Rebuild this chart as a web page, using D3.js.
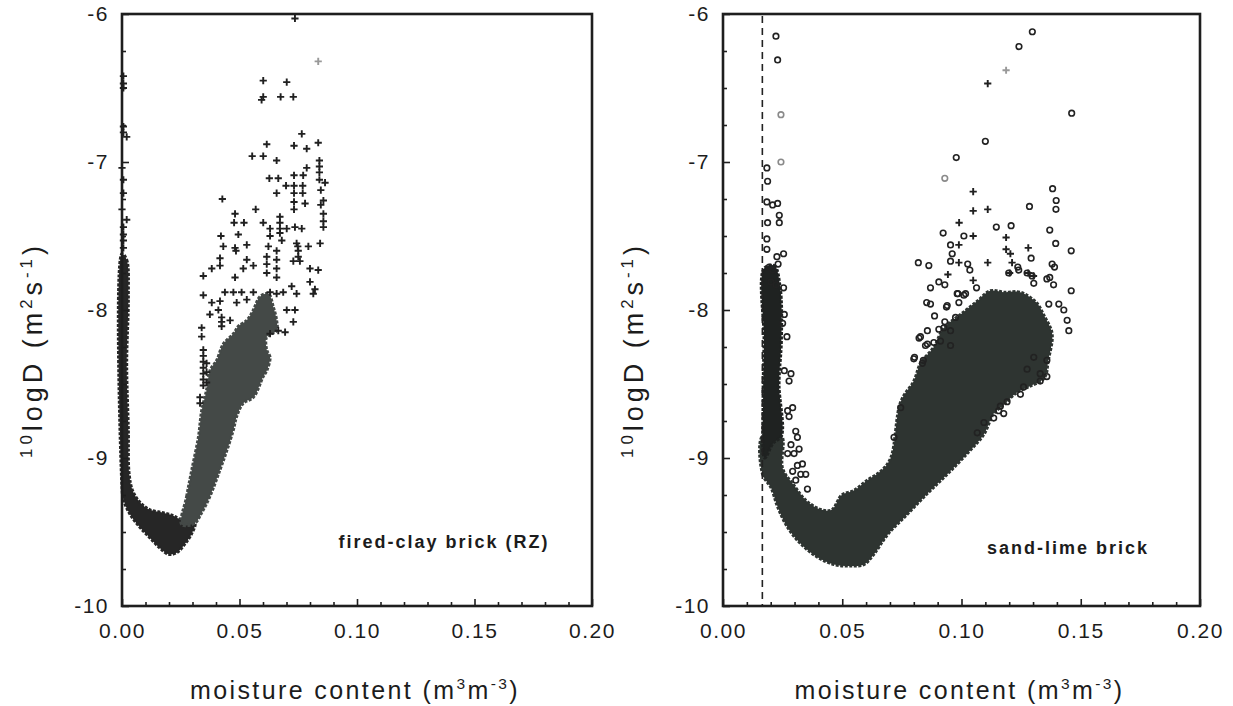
<!DOCTYPE html>
<html>
<head>
<meta charset="utf-8">
<script src="https://cdn.jsdelivr.net/npm/d3@7"></script>
<style>
  body { margin: 0; background: #fff; }
  svg text { font-family: "Liberation Sans", Arial, sans-serif; fill: #1c1c1c; }
</style>
</head>
<body>
<div id="wrapper"></div>
<script>
// axis ticks
const xTicks = [0, 0.05, 0.10, 0.15, 0.20];
const xMinor = [0.01,0.02,0.03,0.04,0.06,0.07,0.08,0.09,0.11,0.12,0.13,0.14,0.16,0.17,0.18,0.19];
const yTicks = [-6, -7, -8, -9, -10];
const yMinor = [-6.25,-6.5,-6.75,-7.25,-7.5,-7.75,-8.25,-8.5,-8.75,-9.25,-9.5,-9.75];

// fired-clay brick: dense cloud outlines [moisture, logD]
const clayCore = [
  [0.0000,-7.62],[0.0020,-7.66],[0.0027,-7.91],[0.0020,-8.36],[0.0027,-8.81],[0.0030,-9.10],
  [0.0045,-9.22],[0.0077,-9.30],[0.0119,-9.35],[0.0176,-9.37],[0.0218,-9.39],[0.0254,-9.42],
  [0.0310,-9.44],[0.0297,-9.51],[0.0268,-9.58],[0.0233,-9.64],[0.0197,-9.65],[0.0162,-9.61],
  [0.0119,-9.54],[0.0077,-9.47],[0.0034,-9.38],[0.0006,-9.28],[0.0000,-9.2]
];
const clayBranch = [
  [0.0254,-9.45],[0.0275,-9.26],[0.0297,-9.08],[0.0325,-8.86],[0.0339,-8.68],[0.0360,-8.54],
  [0.0374,-8.41],[0.0403,-8.34],[0.0431,-8.23],[0.0474,-8.16],[0.0495,-8.11],[0.0531,-8.07],
  [0.0559,-8.00],[0.0587,-7.91],[0.0623,-7.89],[0.0644,-7.98],[0.0658,-8.07],[0.0658,-8.14],
  [0.0616,-8.18],[0.0616,-8.27],[0.0630,-8.32],[0.0616,-8.41],[0.0601,-8.45],[0.0559,-8.59],
  [0.0516,-8.63],[0.0488,-8.72],[0.0474,-8.81],[0.0446,-8.95],[0.0417,-9.08],[0.0374,-9.26],
  [0.0339,-9.37],[0.0310,-9.44]
];
// fired-clay brick: separate points
const clayPlus = [
  [0.0006,-6.42],[0.0006,-6.47],[0.0006,-6.50],[0.0006,-6.76],[0.0006,-6.80],[0.0020,-6.83],
  [0.0000,-7.04],[0.0006,-7.12],[0.0006,-7.21],[0.0000,-7.32],[0.0020,-7.39],[0.0006,-7.44],
  [0.0006,-7.49],[0.0006,-7.53],[0.0006,-7.58],
  [0.0736,-6.03],[0.0601,-6.45],[0.0701,-6.46],[0.0601,-6.56],[0.0594,-6.58],[0.0675,-6.56],
  [0.0729,-6.56],[0.0765,-6.81],[0.0616,-6.88],[0.0732,-6.89],[0.0835,-6.87],[0.0786,-6.91],
  [0.0554,-6.96],[0.0601,-6.96],[0.0658,-6.99],[0.0840,-6.99],[0.0840,-7.03],[0.0840,-7.07],
  [0.0840,-7.12],[0.0627,-7.11],[0.0665,-7.11],[0.0732,-7.09],[0.0771,-7.09],[0.0786,-7.04],
  [0.0864,-7.14],[0.0698,-7.16],[0.0732,-7.16],[0.0769,-7.16],[0.0658,-7.21],[0.0732,-7.21],
  [0.0769,-7.21],[0.0846,-7.19],[0.0427,-7.25],[0.0857,-7.26],[0.0732,-7.27],[0.0779,-7.28],
  [0.0846,-7.29],[0.0569,-7.32],[0.0732,-7.32],[0.0481,-7.35],[0.0857,-7.35],[0.0672,-7.37],
  [0.0672,-7.41],[0.0672,-7.45],[0.0672,-7.48],[0.0477,-7.41],[0.0519,-7.41],[0.0601,-7.41],
  [0.0630,-7.45],[0.0736,-7.44],[0.0765,-7.45],[0.0857,-7.44],[0.0857,-7.40],[0.0701,-7.45],
  [0.0421,-7.50],[0.0495,-7.49],[0.0630,-7.50],[0.0680,-7.53],[0.0743,-7.55],[0.0843,-7.55],
  [0.0431,-7.57],[0.0481,-7.58],[0.0531,-7.56],[0.0623,-7.57],[0.0748,-7.57],[0.0793,-7.57],
  [0.0485,-7.60],[0.0417,-7.65],[0.0531,-7.66],[0.0346,-7.77],[0.0382,-7.72],[0.0417,-7.70],
  [0.0481,-7.78],[0.0516,-7.72],[0.0559,-7.70],[0.0616,-7.64],[0.0616,-7.69],[0.0616,-7.75],
  [0.0658,-7.60],[0.0658,-7.66],[0.0658,-7.72],[0.0658,-7.78],[0.0729,-7.67],[0.0757,-7.67],
  [0.0800,-7.72],[0.0835,-7.73],[0.0750,-7.60],[0.0750,-7.64],[0.0438,-7.88],[0.0474,-7.88],
  [0.0509,-7.88],[0.0559,-7.88],[0.0630,-7.88],[0.0658,-7.89],[0.0686,-7.88],[0.0722,-7.84],
  [0.0743,-7.89],[0.0800,-7.81],[0.0821,-7.86],[0.0814,-7.89],[0.0346,-7.90],[0.0417,-7.94],
  [0.0382,-7.95],[0.0410,-8.00],[0.0488,-7.95],[0.0531,-7.93],[0.0701,-8.00],[0.0736,-8.00],
  [0.0374,-8.03],[0.0424,-8.05],[0.0424,-8.08],[0.0424,-8.11],[0.0460,-8.07],[0.0729,-8.08],
  [0.0339,-8.12],[0.0339,-8.18],[0.0665,-8.14],[0.0694,-8.15],[0.0630,-8.16],[0.0346,-8.27],
  [0.0346,-8.31],[0.0346,-8.35],[0.0346,-8.39],[0.0346,-8.43],[0.0346,-8.47],[0.0346,-8.51],
  [0.0360,-8.36],[0.0360,-8.42],[0.0360,-8.49],[0.0332,-8.59],[0.0332,-8.63]
];
const clayPlusFaint = [[0.0835,-6.32]];

// sand-lime brick: dense cloud outlines
const limeColumn = [
  [0.0172,-7.72],[0.0215,-7.70],[0.0240,-7.85],[0.0245,-8.20],[0.0235,-8.50],[0.0245,-8.85],
  [0.0210,-8.90],[0.0175,-9.00],[0.0168,-8.60],[0.0172,-8.20]
];
const limeBowl = [
  [0.0166,-8.85],[0.0166,-9.11],[0.0201,-9.20],[0.0229,-9.33],[0.0271,-9.47],[0.0326,-9.58],
  [0.0396,-9.67],[0.0466,-9.72],[0.0536,-9.73],[0.0591,-9.72],[0.0633,-9.65],[0.0689,-9.52],
  [0.0773,-9.38],[0.0857,-9.24],[0.0940,-9.11],[0.1024,-8.97],[0.1094,-8.84],[0.1135,-8.70],
  [0.1177,-8.64],[0.1230,-8.56],[0.1280,-8.52],[0.1347,-8.46],[0.1364,-8.34],[0.1380,-8.16],
  [0.1347,-8.04],[0.1314,-7.95],[0.1247,-7.88],[0.1180,-7.88],[0.1120,-7.87],[0.1066,-7.94],
  [0.0996,-8.03],[0.0926,-8.12],[0.0884,-8.25],[0.0828,-8.36],[0.0800,-8.48],[0.0745,-8.62],
  [0.0703,-9.00],[0.0661,-9.09],[0.0605,-9.15],[0.0548,-9.22],[0.0498,-9.25],[0.0456,-9.35],
  [0.0414,-9.35],[0.0350,-9.29],[0.0300,-9.19],[0.0250,-9.07],[0.0245,-8.85]
];
// sand-lime brick: separate points
const limeCircles = [
  [0.0222,-6.15],[0.0229,-6.31],[0.0184,-7.04],[0.0187,-7.13],[0.0184,-7.27],[0.0208,-7.29],
  [0.0229,-7.28],[0.0236,-7.36],[0.0236,-7.41],[0.0187,-7.41],[0.0184,-7.52],[0.0184,-7.59],
  [0.0254,-7.62],[0.0226,-7.64],[0.0194,-7.71],[0.0208,-7.73],[0.0231,-7.69],[0.0201,-7.81],
  [0.0254,-7.85],[0.0222,-7.83],[0.0257,-8.03],[0.0250,-8.09],[0.0268,-8.18],[0.0257,-8.41],
  [0.0285,-8.43],[0.0277,-8.48],[0.0292,-8.66],[0.0271,-8.68],[0.0277,-8.72],[0.0305,-8.82],
  [0.0312,-8.86],[0.0285,-8.91],[0.0271,-8.97],[0.0298,-8.97],[0.0319,-8.94],[0.0333,-9.04],
  [0.0312,-9.05],[0.0292,-9.09],[0.0326,-9.11],[0.0305,-9.15],[0.0347,-9.11],[0.0354,-9.21],
  [0.1297,-6.12],[0.1241,-6.22],[0.1462,-6.67],[0.1100,-6.86],[0.0978,-6.97],[0.1382,-7.18],
  [0.1397,-7.26],[0.1396,-7.32],[0.1285,-7.30],[0.1146,-7.44],[0.1208,-7.43],[0.0923,-7.48],
  [0.1010,-7.50],[0.1370,-7.46],[0.1395,-7.55],[0.0954,-7.56],[0.1460,-7.60],[0.0961,-7.62],
  [0.0954,-7.67],[0.0819,-7.68],[0.0863,-7.70],[0.1026,-7.69],[0.1035,-7.73],[0.1292,-7.65],
  [0.1236,-7.71],[0.1390,-7.71],[0.0870,-7.85],[0.0905,-7.81],[0.0930,-7.83],[0.1063,-7.85],
  [0.0982,-7.89],[0.1010,-7.90],[0.1358,-7.79],[0.1386,-7.83],[0.1460,-7.87],[0.1370,-7.78],
  [0.1296,-7.77],[0.1303,-7.82],[0.1275,-7.75],[0.1240,-7.73],[0.1198,-7.75],[0.0854,-7.95],
  [0.0937,-7.98],[0.0887,-8.04],[0.0930,-8.08],[0.0975,-8.05],[0.0989,-7.95],[0.0985,-7.89],
  [0.1017,-7.89],[0.0857,-8.14],[0.0905,-8.13],[0.0954,-8.14],[0.0822,-8.19],[0.0884,-8.22],
  [0.0849,-8.24],[0.0954,-8.24],[0.0803,-8.32],[0.0840,-8.34],[0.1366,-7.96],[0.1408,-7.96],
  [0.1429,-8.00],[0.1443,-8.07],[0.1450,-8.14],[0.1303,-8.32],[0.1358,-8.34],[0.1330,-8.43],
  [0.1358,-8.45],[0.1330,-8.48],[0.1275,-8.40],[0.1260,-8.52],[0.1247,-8.57],[0.1191,-8.62],
  [0.1163,-8.65],[0.1156,-8.68],[0.1135,-8.73],[0.1094,-8.76],[0.1066,-8.83],[0.1177,-8.70],
  [0.0870,-7.96],[0.0926,-8.12],[0.0940,-7.97],[0.0828,-8.18],[0.0857,-8.23],[0.0912,-8.21],
  [0.0745,-8.66],[0.0717,-8.86],[0.0800,-8.33],[0.0836,-8.36],[0.1380,-7.69]
];
const limeCirclesFaint = [[0.0243,-6.68],[0.0243,-7.00],[0.0930,-7.11]];
const limePlus = [
  [0.1110,-6.47],[0.1049,-7.20],[0.1049,-7.33],[0.1110,-7.32],[0.0990,-7.41],[0.1049,-7.50],
  [0.0989,-7.56],[0.0989,-7.68],[0.1110,-7.68],[0.0943,-7.76],[0.1049,-7.80],[0.1187,-7.51],
  [0.1280,-7.58],[0.1187,-7.59],[0.1205,-7.62],[0.1212,-7.68],[0.1202,-7.75],[0.1280,-7.75],
  [0.1302,-7.77]
];
const limePlusFaint = [[0.1187,-6.38]];
const limeCutoff = 0.0165;

const svg = d3.select("#wrapper").append("svg")
    .attr("width", 1233)
    .attr("height", 706);

function supText(sel, parts, size) {
    // parts: [text, isSuperscript]
    parts.forEach(([t, sup]) => {
        sel.append("tspan")
            .attr("font-size", sup ? size * 0.62 : size)
            .attr("baseline-shift", sup ? "60%" : null)
            .text(t);
    });
}

function drawPanel(p) {
    const x = d3.scaleLinear().domain([0, 0.2]).range([p.left, p.right]);
    const y = d3.scaleLinear().domain([-10, -6]).range([p.bottom, p.top]);
    const g = svg.append("g");

    // dense clouds
    const shape = d3.line().x(d => x(d[0])).y(d => y(d[1])).curve(d3.curveCatmullRomClosed.alpha(0.5));
    p.clouds.forEach(c => {
        g.append("path").attr("d", shape(c.data))
            .attr("fill", c.color).attr("stroke", c.color)
            .attr("stroke-width", 3).attr("stroke-dasharray", "3 1.5");
    });

    // cutoff line
    if (p.cutoff != null) {
        g.append("line")
            .attr("x1", x(p.cutoff)).attr("x2", x(p.cutoff))
            .attr("y1", y(-6) + 2).attr("y2", y(-10))
            .attr("stroke", "#222").attr("stroke-width", 1.6)
            .attr("stroke-dasharray", "7 5");
    }

    // markers
    const cross = s => `M${-s},0H${s}M0,${-s}V${s}`;
    p.plus.forEach(set => {
        g.append("g").selectAll("path").data(set.data).join("path")
            .attr("transform", d => `translate(${x(d[0])},${y(d[1])})`)
            .attr("d", cross(3.6))
            .attr("stroke", set.color).attr("stroke-width", 1.9).attr("fill", "none");
    });
    p.circles.forEach(set => {
        g.append("g").selectAll("circle").data(set.data).join("circle")
            .attr("cx", d => x(d[0])).attr("cy", d => y(d[1]))
            .attr("r", 2.8)
            .attr("stroke", set.color).attr("stroke-width", 1.6).attr("fill", "none");
    });

    // frame
    g.append("rect")
        .attr("x", p.left).attr("y", p.top)
        .attr("width", p.right - p.left).attr("height", p.bottom - p.top)
        .attr("fill", "none").attr("stroke", "#1e1e1e").attr("stroke-width", 2.6);

    // axes
    g.append("g").attr("transform", `translate(0,${p.bottom})`)
        .call(d3.axisBottom(x).tickValues(xTicks).tickSize(-7).tickPadding(17)
            .tickFormat(d3.format(".2f")));
    g.append("g").attr("transform", `translate(0,${p.bottom})`)
        .call(d3.axisBottom(x).tickValues(xMinor).tickSize(-4).tickFormat(""));
    g.append("g").attr("transform", `translate(${p.left},0)`)
        .call(d3.axisLeft(y).tickValues(yTicks).tickSize(-7).tickPadding(13)
            .tickFormat(d => String(d)));
    g.append("g").attr("transform", `translate(${p.left},0)`)
        .call(d3.axisLeft(y).tickValues(yMinor).tickSize(-4).tickFormat(""));
    g.selectAll(".domain").remove();
    g.selectAll(".tick line").attr("stroke", "#1e1e1e").attr("stroke-width", 1.6);
    g.selectAll(".tick text")
        .attr("font-size", 21).attr("letter-spacing", 1.5)
        .attr("font-family", "'Liberation Sans', Arial, sans-serif").attr("fill", "#1c1c1c");

    // axis titles
    const xt = g.append("text")
        .attr("x", (p.left + p.right) / 2 - 2).attr("y", 699)
        .attr("text-anchor", "middle").attr("letter-spacing", 2.4).attr("font-size", 25);
    supText(xt, [["moisture content (m", 0], ["3", 1], ["m", 0], ["-3", 1], [")", 0]], 25);

    const yt = g.append("text")
        .attr("transform", `translate(${p.left - 80},${p.titleY}) rotate(-90)`)
        .attr("text-anchor", "middle").attr("letter-spacing", 4).attr("font-size", 27);
    supText(yt, [["10", 1], ["logD (m", 0], ["2", 1], ["s", 0], ["-1", 1], [")", 0]], 27);

    // panel label
    g.append("text")
        .attr("x", p.labelX).attr("y", p.labelY)
        .attr("text-anchor", "middle")
        .attr("font-size", 18).attr("font-weight", "bold").attr("letter-spacing", 2)
        .text(p.label);
}

drawPanel({
    left: 122, right: 592, top: 14, bottom: 606, titleY: 350,
    clouds: [{data: clayCore, color: "#262626"}, {data: clayBranch, color: "#444947"}],
    plus: [{data: clayPlus, color: "#202020"}, {data: clayPlusFaint, color: "#999"}],
    circles: [],
    label: "fired-clay brick (RZ)", labelX: 444, labelY: 548
});

drawPanel({
    left: 723, right: 1200, top: 14, bottom: 606, titleY: 350,
    cutoff: limeCutoff,
    clouds: [{data: limeBowl, color: "#2e3431"}, {data: limeColumn, color: "#1f2221"}],
    plus: [{data: limePlus, color: "#202020"}, {data: limePlusFaint, color: "#999"}],
    circles: [{data: limeCircles, color: "#222"}, {data: limeCirclesFaint, color: "#8a8a8a"}],
    label: "sand-lime brick", labelX: 1068, labelY: 554
});
</script>
</body>
</html>
